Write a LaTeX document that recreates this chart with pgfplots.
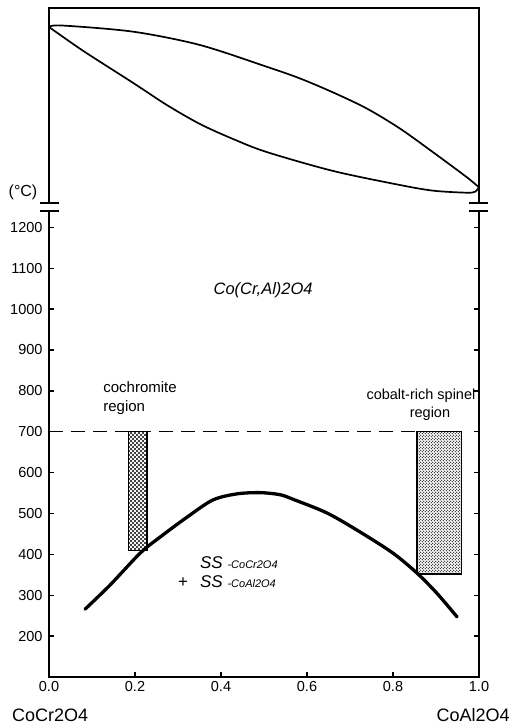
\documentclass[border=0pt]{standalone}
\usepackage{fontspec}
\setmainfont{Liberation Sans}
\usepackage{pgfplots}
\pgfplotsset{compat=1.18}
\usetikzlibrary{patterns}
\pgfdeclarepatternformonly{coarsedots}{\pgfqpoint{-1pt}{-1pt}}{\pgfqpoint{5pt}{5pt}}{\pgfqpoint{4pt}{4pt}}{%
 \pgfpathcircle{\pgfqpoint{1pt}{1pt}}{1.1pt}\pgfpathcircle{\pgfqpoint{3pt}{3pt}}{1.1pt}\pgfusepath{fill}}
\pgfdeclarepatternformonly{finedots}{\pgfqpoint{-1pt}{-1pt}}{\pgfqpoint{4pt}{4pt}}{\pgfqpoint{3pt}{3pt}}{%
 \pgfpathcircle{\pgfqpoint{0.75pt}{0.75pt}}{0.6pt}\pgfpathcircle{\pgfqpoint{2.25pt}{2.25pt}}{0.6pt}\pgfusepath{fill}}
\begin{document}
\begin{tikzpicture}[x=1pt,y=1pt]
\useasboundingbox (0,0) rectangle (511,724);
% lower panel
\begin{axis}[at={(49pt,47pt)}, anchor=south west, scale only axis,
  width=430pt, height=466pt, xmin=0, xmax=1, ymin=100, ymax=1240,
  clip=false, axis line style={draw=none},
  xtick={0,0.2,0.4,0.6,0.8,1},
  ytick={200,300,400,500,600,700,800,900,1000,1100,1200},
  /pgf/number format/assume math mode=true,
  /pgf/number format/1000 sep={},
  xticklabel style={/pgf/number format/fixed, /pgf/number format/fixed zerofill,
    /pgf/number format/precision=1, yshift=-1pt},
  xtick pos=bottom, ytick pos=both, tick align=inside,
  major tick length=5pt, tick style={line width=1.3pt, black},
  tick label style={font=\fontsize{14.5}{17}\selectfont},
  yticklabel style={xshift=-3pt}]
 \addplot[draw=black, line width=1.3pt, dash pattern=on 14pt off 8pt] coordinates {(0,700) (0.856,700)};
 \addplot[draw=black, line width=1.2pt, pattern=coarsedots, pattern color=black]
   coordinates {(0.184,410) (0.228,410) (0.228,700) (0.184,700)} -- cycle;
 \addplot[draw=black, line width=1.2pt, pattern=finedots, pattern color=black]
   coordinates {(0.856,352) (0.960,352) (0.960,700) (0.856,700)} -- cycle;
 \addplot[draw=black, line width=3.3pt, line cap=round, smooth] coordinates {
  (0.084,266) (0.142,325) (0.212,403) (0.258,442) (0.321,491) (0.381,533)
  (0.437,548) (0.491,551) (0.537,546) (0.567,535) (0.647,501) (0.723,455)
  (0.800,403) (0.856,354) (0.902,305) (0.949,247)};
 \draw[line width=2pt, line join=miter] (rel axis cs:0,1) -- (rel axis cs:0,0) -- (rel axis cs:1,0) -- (rel axis cs:1,1);
 \node[font=\fontsize{16.5}{18}\selectfont\itshape] at (axis cs:0.498,1046) {Co(Cr,Al)2O4};
 \node[anchor=west, align=left, inner sep=0, font=\fontsize{15}{19}\selectfont] at (axis cs:0.126,783) {cochromite\\region};
 \node[inner sep=0, font=\fontsize{14.5}{16}\selectfont] at (axis cs:0.865,787) {cobalt-rich spinel};
 \node[inner sep=0, font=\fontsize{14.5}{16}\selectfont] at (axis cs:0.886,745) {region};
 \node[anchor=base west, inner sep=0, font=\itshape] at (axis cs:0.351,366) {\fontsize{17}{19}\selectfont SS \fontsize{11}{13}\selectfont -CoCr2O4};
 \node[anchor=base west, inner sep=0, font=\itshape] at (axis cs:0.351,320) {\fontsize{17}{19}\selectfont SS \fontsize{11}{13}\selectfont -CoAl2O4};
 \node[anchor=base east, inner sep=0, font=\fontsize{17}{19}\selectfont] at (axis cs:0.324,320) {+};
 \node[anchor=west, inner sep=0, font=\fontsize{18}{20}\selectfont] at (axis cs:-0.086,7) {CoCr2O4};
 \node[anchor=east, inner sep=0, font=\fontsize{18}{20}\selectfont] at (axis cs:1.072,7) {CoAl2O4};
\end{axis}
% upper panel
\begin{axis}[at={(49pt,521pt)}, anchor=south west, scale only axis,
  width=430pt, height=195pt, xmin=0, xmax=1, ymin=0, ymax=195,
  hide axis, clip=false]
 \addplot[draw=black, line width=1.7pt, smooth] coordinates {
  (0,176) (0.03,177.5) (0.196,171.3) (0.351,158) (0.506,136.3) (0.584,124.5)
  (0.661,110.5) (0.739,94.5) (0.816,74.5) (0.894,50.5) (0.971,26) (0.995,17.5) (1,16)};
 \addplot[draw=black, line width=1.7pt, smooth] coordinates {
  (0,176) (0.08,152) (0.196,120) (0.274,98) (0.351,79) (0.428,64) (0.506,51)
  (0.661,32) (0.816,18) (0.894,12.3) (0.971,10.3) (0.991,11.3) (1,16)};
 \draw[line width=2pt, line join=miter] (rel axis cs:0,0) -- (rel axis cs:0,1) -- (rel axis cs:1,1) -- (rel axis cs:1,0);
\end{axis}
% axis breaks
\draw[line width=1.5pt] (40,521) -- (59,521) (40,513) -- (59,513)
  (469,521) -- (488,521) (469,513) -- (488,513);
\node[font=\fontsize{16}{18}\selectfont] at (23,532) {(°C)};
\end{tikzpicture}
\end{document}
